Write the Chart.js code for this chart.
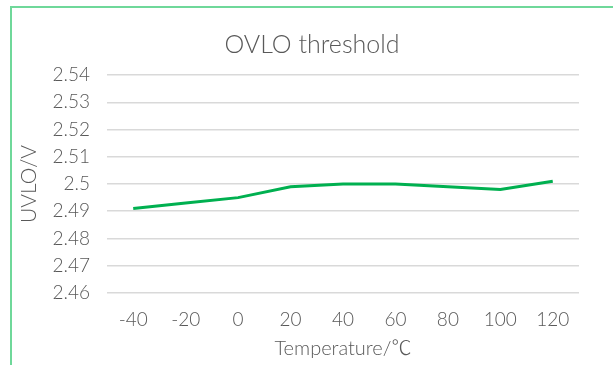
<!DOCTYPE html>
<html>
<head>
<meta charset="utf-8">
<script src="https://cdn.jsdelivr.net/npm/chart.js@4/dist/chart.umd.min.js"></script>
<style>
  html, body { margin: 0; padding: 0; background: #ffffff; overflow: hidden; }
  .frame {
    position: absolute; left: 10px; top: 6px; width: 620px; height: 380px;
    border-left: 2px solid #6fd89a; border-top: 2px solid #6fd89a;
  }
  .wrap { position: absolute; left: 0; top: 0; width: 613px; height: 365px; }
</style>
</head>
<body>
<div class="frame"></div>
<div class="wrap"><canvas id="c" width="613" height="365"></canvas></div>
<script>
// Temperature sweep (°C) and measured threshold (V)
const temperatures = [-40, -20, 0, 20, 40, 60, 80, 100, 120];
const ovloVolts = [2.491, 2.493, 2.495, 2.499, 2.5, 2.5, 2.499, 2.498, 2.501];
const yTickValues = [2.46, 2.47, 2.48, 2.49, 2.5, 2.51, 2.52, 2.53, 2.54];

const textColor = '#595959';
const fontFamily = 'Lato, "Noto Sans CJK SC", Roboto, sans-serif';

new Chart(document.getElementById('c'), {
  type: 'line',
  data: {
    labels: temperatures.map(String),
    datasets: [{
      data: ovloVolts,
      borderColor: '#00b050',
      borderWidth: 3,
      pointRadius: 0,
      tension: 0,
      fill: false
    }]
  },
  options: {
    responsive: false,
    animation: false,
    layout: { padding: { left: 45, right: 34, top: 0, bottom: 0 } },
    plugins: {
      legend: { display: false },
      tooltip: { enabled: false },
      title: {
        display: true,
        text: 'OVLO threshold',
        color: textColor,
        font: { family: fontFamily, size: 25, weight: '300' },
        padding: { top: 30, bottom: 15 }
      }
    },
    scales: {
      x: {
        offset: true,
        grid: { display: false, drawTicks: false },
        border: { display: false },
        ticks: {
          color: textColor,
          font: { family: fontFamily, size: 19, weight: '300' },
          padding: 15,
          maxRotation: 0
        },
        title: {
          display: true,
          text: 'Temperature/℃',
          color: textColor,
          font: { family: fontFamily, size: 20, weight: '300' },
          padding: { top: 0, bottom: 4 }
        },
        afterFit(scale) { scale.height = 72; }
      },
      y: {
        min: yTickValues[0],
        max: yTickValues[yTickValues.length - 1],
        grid: { color: '#d9d9d9', lineWidth: 1.5, drawTicks: false },
        border: { display: false },
        afterBuildTicks(scale) { scale.ticks = yTickValues.map(v => ({ value: v })); },
        ticks: {
          color: textColor,
          font: { family: fontFamily, size: 19, weight: '300' },
          padding: 17,
          callback: v => String(parseFloat(Number(v).toFixed(2)))
        },
        title: {
          display: true,
          text: 'UVLO/V',
          color: textColor,
          font: { family: fontFamily, size: 21, weight: '300' },
          padding: { top: -28, bottom: 0 }
        },
        afterFit(scale) { scale.width = 62; }
      }
    }
  }
});
</script>
</body>
</html>
